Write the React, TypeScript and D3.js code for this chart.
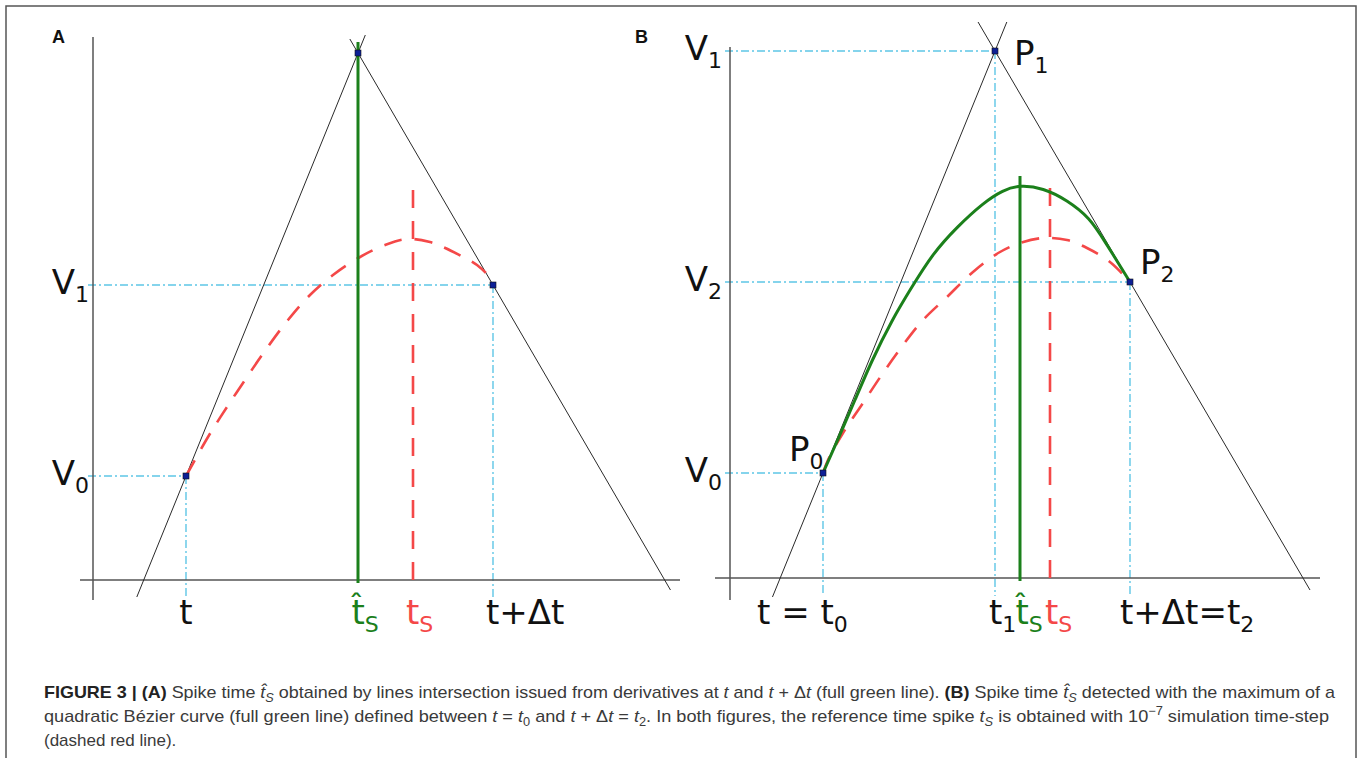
import React from 'react'
import * as d3 from 'd3'

type Pt = [number, number]

// ---- panel A: spike time from the intersection of the two derivative lines
const A_V0: Pt = [9.3, 10.4]
const A_APEX: Pt = [26.5, 52.7]
const A_V1: Pt = [40.0, 29.5]
const A_TS_HAT = 26.5
const A_TS = 32.0
const A_REF_CURVE: Pt[] = [
  [9.3, 10.4], [11.5, 14.3], [13.4, 17.3], [15.4, 20.3], [17.4, 23.2], [19.5, 26.0],
  [21.7, 28.5], [24.0, 30.5], [26.7, 32.3], [29.2, 33.5], [31.4, 34.1], [33.7, 33.8],
  [35.0, 33.3], [37.0, 32.3], [38.4, 31.5], [39.7, 30.2], [40.0, 29.5],
]

// ---- panel B: spike time from the maximum of a quadratic Bezier curve
const B_P0: Pt = [9.3, 10.5]
const B_P1: Pt = [26.5, 52.7]
const B_P2: Pt = [40.0, 29.6]
const B_TS_HAT = 29.0
const B_TS = 32.0
const B_REF_CURVE: Pt[] = [
  [9.3, 10.5], [9.8, 11.8], [11.3, 14.5], [13.3, 17.5], [15.3, 20.5], [17.3, 23.3],
  [19.3, 25.8], [21.7, 28.1], [24.3, 30.6], [27.0, 32.6], [29.0, 33.5], [31.3, 34.0],
  [33.7, 33.8], [35.7, 33.0], [38.0, 31.6], [40.0, 29.6],
]
const B_BEZIER: Pt[] = [
  [9.3, 10.5], [10.9, 14.1], [12.5, 17.8], [14.2, 21.8], [16.2, 25.8], [18.0, 28.8],
  [20.3, 32.5], [22.7, 35.1], [25.3, 37.5], [27.3, 38.8], [29.0, 39.3], [31.3, 39.0],
  [33.7, 37.8], [36.0, 36.0], [37.4, 33.8], [40.0, 29.6],
]

const W = 1362
const H = 758
const GREEN = '#1b801b'
const RED = '#f44848'
const CYAN = '#5ec6e6'
const NAVY = '#0c1f96'
const AXIS = '#555'
const LABEL_FONT = '"DejaVu Sans", Verdana, sans-serif'
const CAPTION_FONT = '"Liberation Sans Narrow", "Liberation Sans", Arial, sans-serif'

// point on the line through p and q at height y
const atY = (p: Pt, q: Pt, y: number): Pt => [p[0] + ((y - p[1]) * (q[0] - p[0])) / (q[1] - p[1]), y]

function Sub({ x, y, main, sub, anchor = 'start', color = '#111' }:
  { x: number; y: number; main: string; sub: string; anchor?: string; color?: string }) {
  return (
    <text x={x} y={y} fontFamily={LABEL_FONT} fontSize={34} fill={color} textAnchor={anchor}>
      {main}<tspan fontSize={22} dy={8}>{sub}</tspan>
    </text>
  )
}

// t with a hat, subscript S; x is the centre of the t
function HatT({ x, y, color }: { x: number; y: number; color: string }) {
  return (
    <text x={x - 6.5} y={y} fontSize={34} fill={color} fontFamily={LABEL_FONT}>
      t̂<tspan fontSize={22} dy={8}>S</tspan>
    </text>
  )
}

function Panel({ kind }: { kind: 'A' | 'B' }) {
  const isA = kind === 'A'
  const x0 = isA ? 93 : 730
  const yb = isA ? 580 : 578
  const x = d3.scaleLinear().domain([0, 60]).range([x0, x0 + 600])
  const y = d3.scaleLinear().domain([0, 55]).range([yb, yb - 550])
  const line = d3.line<Pt>().x(d => x(d[0])).y(d => y(d[1]))
  const smooth = d3.line<Pt>().x(d => x(d[0])).y(d => y(d[1])).curve(d3.curveCatmullRom.alpha(0.5))
  const basis = d3.line<Pt>().x(d => x(d[0])).y(d => y(d[1])).curve(d3.curveBasis)

  const p0 = isA ? A_V0 : B_P0
  const p1 = isA ? A_APEX : B_P1
  const p2 = isA ? A_V1 : B_P2
  const tsHat = isA ? A_TS_HAT : B_TS_HAT
  const ts = isA ? A_TS : B_TS
  const ref = isA ? A_REF_CURVE : B_REF_CURVE
  const xExt: Pt = isA ? [-1.3, 58.7] : [-1.5, 59.0]
  const yExt: Pt = isA ? [-2.0, 54.3] : [-2.2, 53.1]
  const leftTan: Pt[] = isA ? [atY(p0, p1, -1.7), atY(p0, p1, 54.5)] : [atY(p0, p1, -1.9), atY(p0, p1, 55.6)]
  const rightTan: Pt[] = isA ? [atY(p1, p2, 54.1), atY(p1, p2, -1.0)] : [atY(p1, p2, 55.6), atY(p1, p2, -1.2)]
  const cyanBottom = -1.8
  const hLines: Pt[] = isA ? [p0, p2] : [p0, p1, p2]
  const vLines: Pt[] = isA ? [p0, p2] : [p0, p1, p2]
  const greenTop = isA ? 53.8 : 40.2
  const redTop = 40.0
  const markBottom = -0.3
  const ly = 624

  return (
    <g>
      {/* dash-dot guides */}
      <g stroke={CYAN} strokeWidth={1.4} strokeDasharray="8,3,2,3" fill="none">
        {hLines.map((p, i) => <path key={`h${i}`} d={line([[-0.5, p[1]], p]) || ''} />)}
        {vLines.map((p, i) => <path key={`v${i}`} d={line([p, [p[0], cyanBottom]]) || ''} />)}
      </g>
      {/* axes */}
      <g stroke={AXIS} strokeWidth={1.5}>
        <path d={line([[xExt[0], 0], [xExt[1], 0]]) || ''} />
        <path d={line([[0, yExt[0]], [0, yExt[1]]]) || ''} />
      </g>
      {/* derivative lines */}
      <g stroke="#2a2a2a" strokeWidth={1}>
        <path d={line(leftTan) || ''} />
        <path d={line(rightTan) || ''} />
      </g>
      {/* reference solution */}
      <path d={smooth(ref) || ''} fill="none" stroke={RED} strokeWidth={2.6} strokeDasharray="18,13" />
      <path d={line([[ts, markBottom], [ts, redTop]]) || ''} stroke={RED} strokeWidth={2.6} strokeDasharray="18,13" strokeDashoffset={-3} />
      {!isA && <path d={basis(B_BEZIER) || ''} fill="none" stroke={GREEN} strokeWidth={3} />}
      <path d={line([[tsHat, markBottom], [tsHat, greenTop]]) || ''} stroke={GREEN} strokeWidth={3} />
      {/* points */}
      {[p0, p1, p2].map((p, i) => (
        <rect key={i} x={x(p[0]) - 3} y={y(p[1]) - 3} width={6} height={6} fill={NAVY} stroke="#111" strokeWidth={0.6} />
      ))}

      {/* labels */}
      <text x={isA ? 52 : 635} y={43} fontFamily='"Liberation Sans", Arial, sans-serif' fontWeight="bold" fontSize={18} fill="#111">{kind}</text>
      {isA ? (
        <>
          <Sub x={x(0) - 4} y={y(p2[1]) + 9} main="V" sub="1" anchor="end" />
          <Sub x={x(0) - 4} y={y(p0[1]) + 9} main="V" sub="0" anchor="end" />
          <text x={x(p0[0])} y={ly} fontFamily={LABEL_FONT} fontSize={34} textAnchor="middle" fill="#111">t</text>
          <HatT x={x(tsHat)} y={ly} color={GREEN} />
          <text x={x(ts) - 7} y={ly} fontFamily={LABEL_FONT} fontSize={34} fill={RED}>t<tspan fontSize={22} dy={8}>S</tspan></text>
          <text x={x(p2[0]) - 7} y={ly} fontFamily={LABEL_FONT} fontSize={34} fill="#111">t+Δt</text>
        </>
      ) : (
        <>
          <Sub x={x(0) - 8} y={y(p1[1]) + 9} main="V" sub="1" anchor="end" />
          <Sub x={x(0) - 8} y={y(p2[1]) + 9} main="V" sub="2" anchor="end" />
          <Sub x={x(0) - 8} y={y(p0[1]) + 9} main="V" sub="0" anchor="end" />
          <Sub x={x(p1[0]) + 19} y={y(p1[1]) + 14} main="P" sub="1" />
          <Sub x={x(p2[0]) + 10} y={y(p2[1]) - 8} main="P" sub="2" />
          <Sub x={x(p0[0]) - 34} y={y(p0[1]) - 12} main="P" sub="0" />
          <Sub x={x(p0[0]) - 66} y={ly} main="t = t" sub="0" />
          <Sub x={x(p1[0]) - 6} y={ly} main="t" sub="1" />
          <HatT x={x(tsHat) + 2} y={ly} color={GREEN} />
          <text x={x(ts) - 5} y={ly} fontFamily={LABEL_FONT} fontSize={34} fill={RED}>t<tspan fontSize={22} dy={8}>S</tspan></text>
          <Sub x={x(p2[0]) - 10} y={ly} main="t+Δt=t" sub="2" />
        </>
      )}
    </g>
  )
}

function Caption() {
  const it = { fontStyle: 'italic' as const }
  const sub = 4
  return (
    <g fontFamily={CAPTION_FONT} fontSize={17} fill="#3a3a3a">
      <text x={44} y={698} textLength={1291} lengthAdjust="spacingAndGlyphs">
        <tspan fontWeight="bold" fill="#222">FIGURE 3 | (A)</tspan> Spike time <tspan {...it}>t̂</tspan>
        <tspan fontSize={12} dy={sub} {...it}>S</tspan><tspan dy={-sub}> obtained by lines intersection issued from derivatives at </tspan>
        <tspan {...it}>t</tspan> and <tspan {...it}>t</tspan> + Δ<tspan {...it}>t</tspan> (full green line). <tspan fontWeight="bold" fill="#222">(B)</tspan> Spike time <tspan {...it}>t̂</tspan>
        <tspan fontSize={12} dy={sub} {...it}>S</tspan><tspan dy={-sub}> detected with the maximum of a</tspan>
      </text>
      <text x={44} y={722} textLength={1285} lengthAdjust="spacingAndGlyphs">
        quadratic Bézier curve (full green line) defined between <tspan {...it}>t</tspan> = <tspan {...it}>t</tspan>
        <tspan fontSize={12} dy={sub}>0</tspan><tspan dy={-sub}> and </tspan><tspan {...it}>t</tspan> + Δ<tspan {...it}>t</tspan> = <tspan {...it}>t</tspan>
        <tspan fontSize={12} dy={sub}>2</tspan><tspan dy={-sub}>. In both figures, the reference time spike </tspan><tspan {...it}>t</tspan>
        <tspan fontSize={12} dy={sub} {...it}>S</tspan><tspan dy={-sub}> is obtained with 10</tspan>
        <tspan fontSize={12} dy={-7}>−7</tspan><tspan dy={7}> simulation time-step</tspan>
      </text>
      <text x={44} y={746}>(dashed red line).</text>
    </g>
  )
}

export default function App() {
  return (
    <svg width={W} height={H} style={{ position: 'absolute', left: 0, top: 0, background: '#fff' }}>
      <rect x={0} y={0} width={W} height={H} fill="#fff" />
      <path d={`M6,${H} V6 H1356 V${H}`} fill="none" stroke="#555" strokeWidth={1.5} />
      <Panel kind="A" />
      <Panel kind="B" />
      <Caption />
    </svg>
  )
}
